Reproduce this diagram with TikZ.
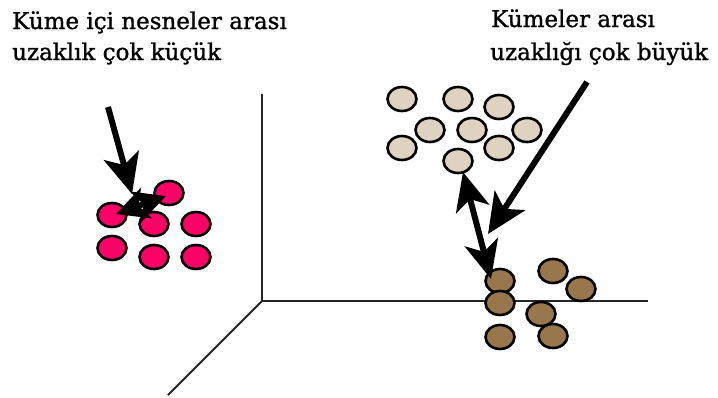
\documentclass[tikz,border=0pt]{standalone}
\usepackage{fontspec}
\setmainfont[FakeBold=1.2]{DejaVu Serif}
\usetikzlibrary{shapes.geometric,arrows.meta}
\definecolor{pinkc}{RGB}{255,0,102}
\definecolor{beigec}{RGB}{222,210,192}
\definecolor{brownc}{RGB}{153,119,76}
\tikzset{
  dot/.style={ellipse,draw=black,line width=2.6pt,minimum width=29pt,minimum height=24pt,inner sep=0pt},
  pinkdot/.style={dot,fill=pinkc},
  beigedot/.style={dot,fill=beigec},
  browndot/.style={dot,fill=brownc},
  axis/.style={line width=1.8pt,draw=black!85},
  bigarrow/.style={line width=6pt,-{Stealth[length=40pt,width=36pt,inset=10pt]}},
  dblarrow/.style={line width=6pt,{Stealth[length=38pt,width=34pt,inset=10pt]}-{Stealth[length=38pt,width=34pt,inset=10pt]}},
  smallarrow/.style={line width=6pt,{Stealth[length=32pt,width=32pt,inset=8pt]}-{Stealth[length=32pt,width=32pt,inset=8pt]}},
  lbl/.style={anchor=base west,inner sep=0pt,font=\fontsize{23}{23}\selectfont}
}
\begin{document}
\begin{tikzpicture}[x=1pt,y=-1pt]
\useasboundingbox (0,0) rectangle (718,397);
% axes
\coordinate (o) at (262,301);
\coordinate (ytop) at (262,94);
\coordinate (xend) at (648,301);
\coordinate (zend) at (168,395);
\draw[axis] (ytop) -- (o) -- (xend);
\draw[axis] (o) -- (zend);
% pink cluster
\node[pinkdot] (p1) at (169,193) {};
\node[pinkdot] (p2) at (112,215) {};
\node[pinkdot] (p3) at (154,224) {};
\node[pinkdot] (p4) at (196,224) {};
\node[pinkdot] (p5) at (112,248) {};
\node[pinkdot] (p6) at (154,257) {};
\node[pinkdot] (p7) at (196,257) {};
% beige cluster
\node[beigedot] (b1) at (402,99) {};
\node[beigedot] (b2) at (458,99) {};
\node[beigedot] (b3) at (499,107) {};
\node[beigedot] (b4) at (430,130) {};
\node[beigedot] (b5) at (472,130) {};
\node[beigedot] (b6) at (527,130) {};
\node[beigedot] (b7) at (402,148) {};
\node[beigedot] (b8) at (499,148) {};
\node[beigedot] (b9) at (458,161) {};
% brown cluster
\node[browndot] (r1) at (500,281) {};
\node[browndot] (r2) at (500,303) {};
\node[browndot] (r3) at (500,337) {};
\node[browndot] (r4) at (553,271) {};
\node[browndot] (r5) at (581,289) {};
\node[browndot] (r6) at (541,314) {};
\node[browndot] (r7) at (553,336) {};
% labels
\node[lbl] (t1) at (12,29) {Küme içi nesneler arası};
\node[lbl] (t2) at (12,60) {uzaklık çok küçük};
\node[lbl] (t3) at (491,27) {Kümeler arası};
\node[lbl] (t4) at (490,60) {uzaklığı çok büyük};
% arrows
\coordinate (a1s) at (108,107);
\coordinate (a1e) at (132,194);
\draw[bigarrow] (a1s) -- (a1e);
\coordinate (a2s) at (116,214);
\coordinate (a2e) at (166,196);
\draw[smallarrow] (a2s) -- (a2e);
\coordinate (a3s) at (463,172);
\coordinate (a3e) at (491,279);
\draw[dblarrow] (a3s) -- (a3e);
\coordinate (a4s) at (587,82);
\coordinate (a4e) at (488,234);
\draw[bigarrow] (a4s) -- (a4e);
\end{tikzpicture}
\end{document}
